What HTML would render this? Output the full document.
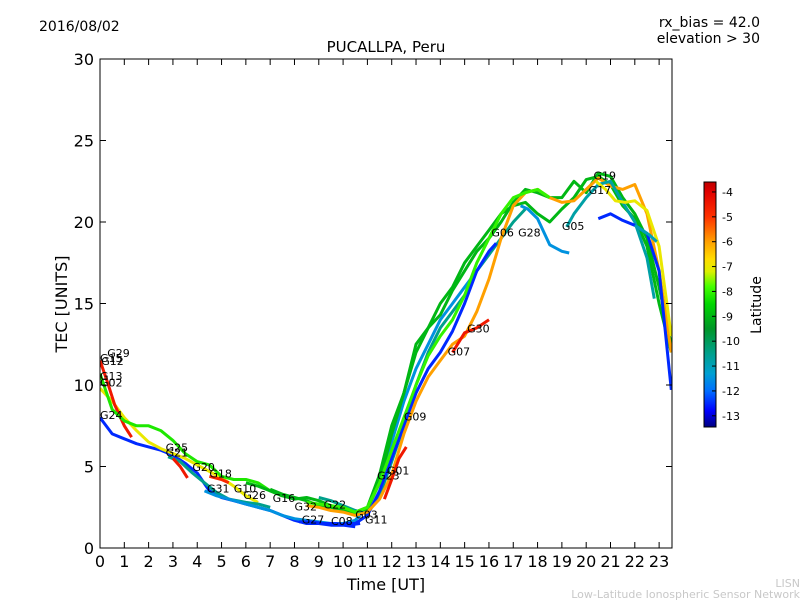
<!DOCTYPE html>
<html><head><meta charset="utf-8"><style>
body{margin:0;background:#fff;font-family:"Liberation Sans","DejaVu Sans",sans-serif}
svg text{font-family:"DejaVu Sans","Liberation Sans",sans-serif}
</style></head><body>
<svg id="c" width="800" height="600" xmlns="http://www.w3.org/2000/svg">
</svg>
<script>
const satNames=["G24","G02","G12","G13","G25","G21","G31","G20","G16","G27","G06","G28","G09","G23","G30","G05","G19","G17","G22","G11","G01","G26"];
const satLat=[-12.5,-7,-4.5,-8.2,-10.5,-4.5,-11.5,-4.8,-9,-12.5,-10.5,-9,-12.5,-6,-4.5,-10.8,-7,-12.5,-8,-11,-4.5,-11.5];
const satTimes=[
[0,0.5,1,1.5,2,2.5,3,3.5,4,4.5,5,5.5,6,6.5,7,8,8.5,9,9.5,10,10.5],
[0,0.5,1,1.5,2,2.5,3,3.5,4,4.5,5,5.5,6,6.5],
[0,0.3,0.6,1,1.3],
[0,0.5,1,1.5,2,2.5,3,3.5,4,4.5,5,5.5,6,6.5,7,7.5],
[2.8,3.3,3.8,4.3,4.8,5.3,6,6.5,7],
[3,3.3,3.6],
[4.3,4.8,5.3,6,6.5,7,7.5,8,8.5,9,9.5,10,10.5,11,11.5,12,12.5,13,13.5,14,14.5,15,15.5,16,16.3],
[4.5,5,5.3],
[6,6.5,7,7.5,8,8.5,9,9.5,10,10.5,11,11.5,12,12.5,13,13.5,14,14.5,15,15.5,16,16.5,17,17.5,18,18.5,19,19.5,20,20.5,21,21.5,22,22.5,23,23.5],
[8.2,8.7,9.2,9.7,10.2,10.7],
[9,9.5,10,10.5,11,11.5,12,12.5,13,13.5,14,14.5,15,15.5,16,16.5,17,17.5],
[7,7.5,8,8.5,9,9.5,10,10.5,11,11.5,12,12.5,13,13.5,14,14.5,15,15.5,16,16.5,17,17.5,18,18.5,19,19.5,20,20.5,21,21.5,22,22.5,23,23.5],
[10,10.5,11,11.5,12,12.5,13,13.5,14,14.5,15,15.5,16,16.3],
[8.5,9,9.5,10,10.5,11,11.5,12,12.5,13,13.5,14,14.5,15,15.5,16,16.5,17,17.5,18,18.5,19,19.5,20,20.5,21,21.5,22,22.5,23,23.5],
[14.5,15,15.5,16],
[19.2,19.5,20,20.5,21,21.5,22,22.5,22.8],
[20.4,20.8,21.2,21.6,22,22.5,23,23.5],
[20.5,21,21.5,22,22.5,23,23.5],
[8.5,9,9.5,10,10.5,11,11.5,12,12.5,13,13.5,14,14.5,15,15.5,16,16.5,17,17.5,18,18.5],
[22,22.3,22.6,22.9],
[11.7,12,12.3,12.6],
[17.3,17.6,18,18.5,19,19.3]
];
const satTec=[
[8,7,6.7,6.4,6.2,6,5.7,5.2,4.6,3.5,3.1,2.9,2.7,2.5,2.3,1.7,1.5,1.5,1.4,1.4,1.3],
[9.8,9,8,7.2,6.5,6.1,5.8,5.5,5.1,4.7,4.3,3.8,3.2,2.8],
[11.5,10.2,8.8,7.5,6.8],
[10.7,8.5,7.8,7.5,7.5,7.2,6.6,5.8,5.3,5.1,4.4,4.2,4.2,4,3.5,3.2],
[5.6,5.3,4.6,4,3.4,3,2.8,2.7,2.5],
[5.5,5,4.3],
[3.5,3.2,3,2.7,2.5,2.3,2,1.8,1.7,1.6,1.5,1.5,1.7,2.5,4,6.5,9,11,12.5,14,15,16,17,18,18.7],
[4.4,4.2,4],
[4,3.8,3.5,3.2,3,3.1,2.9,2.6,2.3,2.1,2.4,4,7,9.5,12,13.5,15,16,17.5,18.5,19.5,20.5,21,21.2,20.5,20,20.8,21.5,22.6,22.8,22.3,21,20.2,18.5,15,12],
[1.6,1.6,1.5,1.5,1.4,1.5],
[3.1,2.9,2.6,2.3,2.1,3.2,5.3,7.5,10,12,13.5,14.5,15.5,17,18,19,20,20.8],
[3.6,3.3,3.1,2.9,2.6,2.5,2.3,2.2,2.5,4.5,7.5,9.5,12.5,13.5,14.3,15.8,17,18.2,19,20,21.2,22,21.8,21.5,21.5,22.5,21.8,23,22.8,21.5,20.5,19,16,12.5],
[1.5,1.5,2,3.5,5.5,7.5,9.5,11,12,13.3,15,17,18.2,18.7],
[2.6,2.5,2.3,2.2,2,2.2,3,4.5,7,9,10.5,11.5,12.5,13,14.5,16.5,19,21,21.8,22,21.5,21.2,21.3,22,22.7,22.2,22,22.3,20.5,17,12],
[12,13.2,13.5,14],
[19.7,20.5,21.5,22.3,22.5,21.2,20,17.8,15.3],
[22.5,22,21.3,21.2,21.3,20.7,18.5,13],
[20.2,20.5,20.1,19.8,19.3,17,9.7],
[2.8,2.7,2.6,2.5,2.2,2.5,4,6,8,10,11.8,13,14,15.5,17.5,19,20.5,21.5,21.8,22,21.5],
[19.8,19.5,19.2,18.8],
[3,4.2,5.5,6.2],
[21,20.8,20.2,18.6,18.2,18.1]
];
const labNames=["G29","G15","G12","G13","G02","G24","G25","G21","G20","G18","G31","G10","G26","G16","G32","G22","G27","C08","G03","G11","G01","G23","G09","G07","G30","G06","G28","G05","G17","G19"];
const labT=[0.3,0,0.05,0,0,0,2.7,2.7,3.8,4.5,4.4,5.5,5.9,7.1,8,9.2,8.3,9.5,10.5,10.9,11.8,11.4,12.5,14.3,15.1,16.1,17.2,19,20.1,20.3];
const labV=[11.9,11.6,11.4,10.5,10.1,8.1,6.1,5.8,4.9,4.5,3.6,3.6,3.2,3.0,2.5,2.6,1.7,1.6,2.0,1.7,4.7,4.4,8.0,12.0,13.4,19.3,19.3,19.7,21.9,22.8];
const xTicks=[...Array(24).keys()];
const yTicks=[0,5,10,15,20,25,30];
const cbTicks=[-4,-5,-6,-7,-8,-9,-10,-11,-12,-13];

const L=100,R=672,T=59,B=548,XMAX=23.53,YMAX=30;
const xs=t=>L+t/XMAX*(R-L), ys=v=>B-v/YMAX*(B-T);
const CBT=182,CBB=427,CBMIN=-13.45,CBMAX=-3.6;
const cy=v=>CBB-(v-CBMIN)/(CBMAX-CBMIN)*(CBB-CBT);
const cmV=[-13.45,-12.8,-12,-11.3,-10.5,-9.5,-8.5,-7.8,-7.2,-6.7,-6,-5,-4,-3.6];
const cmC=[[0,0,128],[0,0,255],[0,110,255],[0,160,210],[0,160,140],[0,150,40],[0,215,0],[70,255,0],[220,240,0],[255,220,0],[255,160,0],[255,50,0],[225,0,0],[190,0,0]];
function jet(v){v=Math.max(cmV[0],Math.min(cmV[cmV.length-1],v));
 for(let i=0;i<cmV.length-1;i++){if(v<=cmV[i+1]){const f=(v-cmV[i])/(cmV[i+1]-cmV[i]);
  const c=cmC[i].map((a,k)=>Math.round(a+(cmC[i+1][k]-a)*f));return `rgb(${c})`;}}
 return `rgb(${cmC[cmC.length-1]})`;}
const svg=document.getElementById('c');const NS="http://www.w3.org/2000/svg";
function el(tag,a,p){const e=document.createElementNS(NS,tag);for(const k in a)e.setAttribute(k,a[k]);(p||svg).appendChild(e);return e;}
function txt(s,x,y,a,p){const e=el('text',a,p);e.setAttribute('x',x);e.setAttribute('y',y);e.textContent=s;return e;}

const clip=el('clipPath',{id:'pc'});el('rect',{x:L,y:T,width:R-L,height:B-T},clip);
const series=el('g',{'clip-path':'url(#pc)'});


satTimes.forEach((ts,i)=>{
 const d=ts.map((t,j)=>(j?'L':'M')+xs(t).toFixed(1)+','+ys(satTec[i][j]).toFixed(1)).join('');
 const p=el('path',{d,fill:'none',stroke:jet(satLat[i]),'stroke-width':3,'stroke-linejoin':'round'},series);
 
 
});
labNames.forEach((n,i)=>{
 const t=txt(n,xs(labT[i]),ys(labV[i]),{'font-size':11,'dominant-baseline':'middle'});
 
 
});
const frame=el('rect',{x:L,y:T,width:R-L,height:B-T,fill:'none',stroke:'#000','stroke-width':1});


xTicks.forEach(t=>{const x=xs(t);
 el('line',{x1:x,x2:x,y1:B,y2:B-6,stroke:'#000'});el('line',{x1:x,x2:x,y1:T,y2:T+6,stroke:'#000'});
 const e=txt(t,x,B+19,{'font-size':16,'text-anchor':'middle'});
 
 });
yTicks.forEach(v=>{const y=ys(v);
 el('line',{x1:L,x2:L+6,y1:y,y2:y,stroke:'#000'});el('line',{x1:R,x2:R-6,y1:y,y2:y,stroke:'#000'});
 const e=txt(v,L-6,y+6,{'font-size':16,'text-anchor':'end'});
 
 });
let e;
e=txt('Time [UT]',386,590,{'font-size':16,'text-anchor':'middle'});
e=txt('TEC [UNITS]',67,304,{'font-size':16,'text-anchor':'middle',transform:'rotate(-90 67 304)'});
e=txt('PUCALLPA, Peru',386,52,{'font-size':15,'text-anchor':'middle'});
e=txt('2016/08/02',39,31,{'font-size':14});
e=txt('rx_bias = 42.0',760,27,{'font-size':14,'text-anchor':'end'});
e=txt('elevation > 30',760,43,{'font-size':14,'text-anchor':'end'});
e=txt('LISN',800,587,{'font-size':11,'text-anchor':'end',fill:'#c8c8c8'});
e=txt('Low-Latitude Ionospheric Sensor Network',800,598,{'font-size':11,'text-anchor':'end',fill:'#c8c8c8'});
const cb=el('g',{});
for(let y=CBT;y<CBB;y++){const v=CBMIN+(CBB-y-0.5)/(CBB-CBT)*(CBMAX-CBMIN);el('rect',{x:704,y:y,width:12,height:1.2,fill:jet(v)},cb);}
el('rect',{x:704,y:CBT,width:12,height:CBB-CBT,fill:'none',stroke:'#000'},cb);
cbTicks.forEach(v=>{const y=cy(v);el('line',{x1:712,x2:716,y1:y,y2:y,stroke:'#000'},cb);
 const t=txt(v,722,y+4,{'font-size':11},cb);});
e=txt('Latitude',761,305,{'font-size':14,'text-anchor':'middle',transform:'rotate(-90 761 305)'});
</script>
</body></html>
